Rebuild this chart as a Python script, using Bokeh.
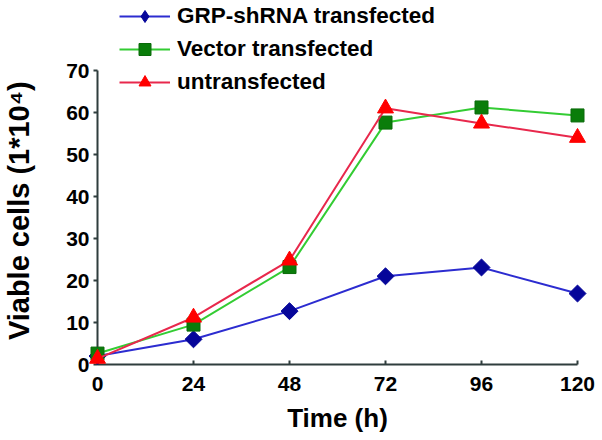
from bokeh.plotting import figure
from bokeh.models import Range1d, FixedTicker, Legend, LegendItem
from bokeh.embed import file_html
from bokeh.resources import INLINE
import math

hours = [0, 24, 48, 72, 96, 120]
grp_shrna = [2.0, 6.0, 12.7, 21.0, 23.1, 16.9]
vector = [2.6, 9.5, 23.2, 57.6, 61.2, 59.3]
untransfected = [1.4, 11.2, 24.8, 61.0, 57.4, 54.0]

x_ticks = [0, 24, 48, 72, 96, 120]
y_ticks = [0, 10, 20, 30, 40, 50, 60, 70]
y_axis_max = 70

series_names = ["GRP-shRNA transfected", "Vector transfected", "untransfected"]
y_title = "Viable cells (1*10\u2074)"
x_title = "Time (h)"

FONT = "Liberation Sans"
AXIS_COLOR = "#2F3D3D"

# frame spans the full height above the x axis (room for the legend);
# the y axis itself is bounded to 0..70
p = figure(width=602, height=440, output_backend="svg", toolbar_location=None,
           x_range=Range1d(0, 120), y_range=Range1d(0, 364 / 4.2),
           min_border_left=97, min_border_right=25, min_border_top=0, min_border_bottom=76)
p.outline_line_color = None
p.xgrid.visible = False
p.ygrid.visible = False
p.background_fill_color = "white"
p.border_fill_color = "white"

for ax in (p.xaxis[0], p.yaxis[0]):
    ax.axis_line_color = AXIS_COLOR
    ax.axis_line_width = 2
    ax.major_tick_line_color = AXIS_COLOR
    ax.major_tick_line_width = 2
    ax.minor_tick_line_color = None
    ax.major_label_text_font = FONT
    ax.major_label_text_font_style = "bold"
    ax.major_label_text_font_size = "21px"
    ax.major_label_text_color = "black"
    ax.axis_label_text_font = FONT
    ax.axis_label_text_font_style = "bold"
    ax.axis_label_text_color = "black"

p.xaxis.ticker = FixedTicker(ticks=x_ticks)
p.xaxis.major_tick_in = 4
p.xaxis.major_tick_out = 0
p.xaxis.major_label_standoff = 12
p.xaxis.axis_label = x_title
p.xaxis.axis_label_text_font_size = "26px"
p.xaxis.axis_label_standoff = 9

p.yaxis.ticker = FixedTicker(ticks=y_ticks)
p.yaxis.bounds = (0, y_axis_max)
p.yaxis.major_tick_in = 0
p.yaxis.major_tick_out = 4
p.yaxis.major_label_standoff = 4
# trailing no-break spaces centre the visible label on the 0..70 axis
p.yaxis.axis_label = y_title + "\u00a0" * 7
p.yaxis.axis_label_text_font_size = "29px"
p.yaxis.axis_label_standoff = 28

# series
l1 = p.line(hours, grp_shrna, line_color="#2C2CD0", line_width=2, level="overlay")
# diamond used by the legend, hidden under the rotated-square markers
d1 = p.scatter(hours, grp_shrna, marker="diamond", size=13,
               fill_color="#06069A", line_color="#06069A", level="overlay")
s1 = p.scatter(hours, grp_shrna, marker="square", angle=math.pi / 4, size=12,
               fill_color="#06069A", line_color="#06069A", level="overlay")
l2 = p.line(hours, vector, line_color="#33CC33", line_width=2, level="overlay")
s2 = p.scatter(hours, vector, marker="square", size=13,
               fill_color="#0A7D0A", line_color="#0A6A0A", level="overlay")
l3 = p.line(hours, untransfected, line_color="#E8284C", line_width=2, level="overlay")
s3 = p.scatter(hours, untransfected, marker="triangle", size=16,
               fill_color="#FF0000", line_color="#FF0000", level="overlay")

legend = Legend(items=[
    LegendItem(label=series_names[0], renderers=[l1, d1]),
    LegendItem(label=series_names[1], renderers=[l2, s2]),
    LegendItem(label=series_names[2], renderers=[l3, s3]),
], location=(22, 267))
legend.border_line_color = None
legend.background_fill_alpha = 0
legend.padding = 0
legend.margin = 0
legend.glyph_width = 51
legend.glyph_height = 30
legend.label_height = 30
legend.spacing = 3
legend.label_standoff = 7
legend.label_text_font = FONT
legend.label_text_font_style = "bold"
legend.label_text_font_size = "22.5px"
legend.label_text_color = "black"
p.add_layout(legend)

open("out.html", "w").write(file_html(p, INLINE))
